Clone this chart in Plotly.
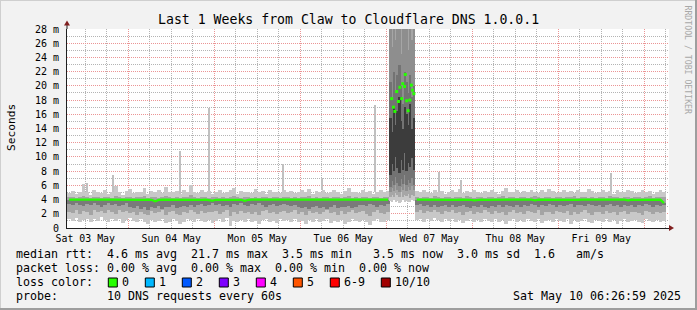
import plotly.graph_objects as go

# ---------------- data: hours since Sat 03 May 2025 00:00 ----------------
first_hour = 7          # first hourly smoke column starts at 07:00 on Sat 03 May
x_range = [6.9, 174.9]

N = None
# outer (lightest) smoke band: lowest / highest ping, ms
lo1 = [1.2, 1.0, 1.4, 0.9, 1.1, 1.3, 0.8, 1.2, 1.0, 1.5,
       1.1, 0.9, 1.3, 1.0, 1.2, 0.7, 1.1, 1.4, 1.0, 0.8,
       1.2, 0.9, 0.6, 1.1, 0.8, 1.0, 1.3, 0.7, 0.9, 1.2,
       1.0, 0.6, 0.9, 1.2, 1.1, 0.8, 1.3, 1.0, 0.9, 1.1,
       0.7, 1.0, 1.2, 0.9, 1.4, 0.3, 1.0, 0.8, 1.1, 0.9,
       1.2, 0.8, 1.0, 0.6, 1.1, 1.3, 0.9, 1.0, 0.7, 1.2,
       1.0, 1.1, 0.8, 1.2, 0.9, 1.0, 0.5, 1.1, 0.8, 1.3,
       0.9, 1.0, 1.2, 0.7, 1.0, 0.8, 1.1, 0.6, 0.9, 1.2,
       1.0, 0.8, 1.1, 0.9, 0.4, 1.0, 1.2, 0.8, 0.9, 1.1,
       N, N, N, N, N, N, N,
       1.1, 1.3, 0.9, 1.2, 1.0, 1.4, 1.1, 0.8, 1.2, 1.0,
       1.3, 0.9, 1.1, 0.7, 1.0, 1.2, 0.8, 1.1, 0.9, 1.3,
       1.0, 0.8, 1.2, 0.9, 1.1, 0.6, 1.0, 1.3, 0.9, 1.1,
       0.8, 1.2, 1.0, 0.9, 1.3, 0.7, 1.0, 1.1, 0.8, 1.2,
       1.0, 0.9, 1.2, 0.6, 1.1, 0.8, 1.0, 1.3, 0.9, 0.7,
       1.1, 1.0, 0.8, 1.2, 0.9, 1.1, 0.5, 1.0, 1.2, 0.8,
       1.0, 1.1, 0.9, 0.7, 1.2, 1.0, 0.8, 1.1, 0.9, 1.0]
hi1 = [4.9, 5.2, 4.8, 5.0, 6.2, 5.1, 4.7, 5.3, 5.0, 4.9,
       5.4, 4.8, 5.1, 5.9, 5.0, 4.7, 5.2, 5.5, 4.9, 5.1,
       5.0, 5.6, 4.8, 5.2, 5.0, 5.3, 4.9, 5.7, 5.1, 5.0,
       5.2, 4.8, 5.4, 5.0, 6.1, 5.1, 4.9, 5.3, 5.0, 5.2,
       4.8, 5.1, 5.4, 4.9, 5.0, 5.3, 5.6, 4.8, 5.2, 5.0,
       5.1, 4.9, 5.5, 5.0, 5.2, 4.8, 5.3, 5.0, 5.1, 4.9,
       5.4, 5.0, 5.2, 4.9, 5.1, 5.3, 5.0, 5.5, 4.8, 5.2,
       5.0, 5.3, 4.9, 5.1, 5.4, 5.0, 4.8, 5.2, 5.6, 5.0,
       5.1, 4.9, 5.3, 5.0, 5.2, 4.8, 5.1, 5.4, 5.0, 5.2,
       N, N, N, N, N, N, N,
       5.2, 5.0, 5.4, 5.1, 4.9, 5.3, 5.0, 5.2, 4.8, 5.1,
       5.3, 5.0, 5.5, 4.9, 5.2, 5.0, 5.4, 5.1, 4.9, 5.2,
       5.0, 5.3, 5.1, 4.8, 5.2, 5.6, 5.0, 5.1, 5.3, 4.9,
       5.2, 5.0, 5.4, 5.1, 4.9, 5.3, 5.0, 5.5, 5.2, 4.9,
       5.1, 5.3, 5.0, 5.2, 4.9, 5.4, 5.1, 5.0, 5.5, 5.2,
       4.9, 5.1, 5.3, 5.0, 5.2, 4.8, 5.4, 5.1, 5.0, 5.3,
       5.2, 4.9, 5.1, 5.4, 5.0, 5.2, 4.8, 5.1, 5.3, 5.0]
# middle smoke band
lo2 = [2.3, 2.1, 2.5, 2.0, 2.4, 2.2, 1.9, 2.6, 2.2, 2.4,
       2.1, 2.5, 2.3, 2.0, 2.6, 2.2, 2.4, 2.1, 2.3, 1.9,
       2.2, 2.0, 1.8, 2.4, 2.1, 2.3, 2.5, 1.9, 2.2, 2.4,
       2.0, 1.8, 2.3, 2.1, 2.5, 2.2, 2.0, 2.4, 2.1, 2.3,
       2.2, 2.4, 2.0, 2.3, 2.5, 1.7, 2.2, 2.0, 2.4, 2.1,
       2.3, 2.0, 2.2, 1.9, 2.4, 2.6, 2.1, 2.3, 2.0, 2.2,
       2.4, 2.1, 2.3, 2.5, 2.0, 2.2, 1.8, 2.4, 2.1, 2.3,
       2.0, 2.3, 2.5, 2.1, 2.2, 1.9, 2.4, 2.0, 2.2, 2.5,
       2.1, 2.3, 2.4, 2.0, 1.7, 2.2, 2.5, 2.1, 2.0, 2.3,
       N, N, N, N, N, N, N,
       2.3, 2.5, 2.1, 2.4, 2.2, 2.6, 2.3, 2.0, 2.4, 2.2,
       2.5, 2.1, 2.3, 1.9, 2.2, 2.4, 2.0, 2.3, 2.1, 2.5,
       2.2, 2.0, 2.4, 2.1, 2.3, 1.8, 2.2, 2.5, 2.1, 2.3,
       2.0, 2.4, 2.2, 2.1, 2.5, 1.9, 2.2, 2.3, 2.0, 2.4,
       2.2, 2.1, 2.4, 1.8, 2.3, 2.0, 2.2, 2.5, 2.1, 1.9,
       2.3, 2.2, 2.0, 2.4, 2.1, 2.3, 1.8, 2.2, 2.4, 2.0,
       2.2, 2.3, 2.1, 1.9, 2.4, 2.2, 2.0, 2.3, 2.1, 2.2]
hi2 = [4.3, 4.4, 4.2, 4.3, 4.5, 4.3, 4.2, 4.4, 4.3, 4.2,
       4.4, 4.3, 4.2, 4.5, 4.3, 4.2, 4.4, 4.3, 4.2, 4.4,
       4.3, 4.5, 4.2, 4.3, 4.4, 4.2, 4.3, 4.5, 4.3, 4.2,
       4.4, 4.2, 4.3, 4.4, 4.6, 4.3, 4.2, 4.4, 4.3, 4.2,
       4.3, 4.4, 4.2, 4.3, 4.2, 4.4, 4.5, 4.3, 4.2, 4.3,
       4.4, 4.2, 4.3, 4.2, 4.4, 4.3, 4.2, 4.4, 4.3, 4.2,
       4.3, 4.4, 4.2, 4.3, 4.2, 4.4, 4.3, 4.5, 4.2, 4.3,
       4.2, 4.4, 4.3, 4.2, 4.4, 4.3, 4.2, 4.3, 4.5, 4.2,
       4.3, 4.2, 4.4, 4.3, 4.2, 4.3, 4.4, 4.2, 4.3, 4.4,
       N, N, N, N, N, N, N,
       4.3, 4.2, 4.4, 4.3, 4.2, 4.5, 4.3, 4.2, 4.4, 4.3,
       4.2, 4.4, 4.3, 4.2, 4.5, 4.3, 4.2, 4.4, 4.3, 4.2,
       4.4, 4.3, 4.2, 4.3, 4.5, 4.2, 4.3, 4.4, 4.2, 4.3,
       4.4, 4.2, 4.3, 4.5, 4.3, 4.2, 4.4, 4.3, 4.2, 4.4,
       4.3, 4.2, 4.4, 4.3, 4.5, 4.2, 4.3, 4.4, 4.2, 4.3,
       4.2, 4.4, 4.3, 4.2, 4.5, 4.3, 4.4, 4.2, 4.3, 4.4,
       4.2, 4.3, 4.4, 4.2, 4.3, 4.5, 4.2, 4.3, 4.4, 4.3]
# inner (dark) smoke band bottom; it reaches up to the median
lo3 = [3.4, 3.2, 3.5, 3.3, 3.1, 3.4, 3.2, 3.5, 3.3, 3.0,
       3.3, 3.5, 3.2, 3.4, 3.1, 3.3, 3.5, 3.0, 2.8, 3.1,
       2.7, 3.0, 2.6, 2.9, 2.8, 3.1, 2.7, 3.0, 2.9, 3.2,
       2.8, 3.0, 3.1, 2.9, 3.3, 3.0, 3.2, 3.4, 3.1, 3.3,
       3.5, 3.2, 3.4, 3.1, 3.3, 3.0, 3.4, 3.2, 3.5, 3.3,
       3.1, 3.4, 3.2, 3.5, 3.3, 3.0, 3.2, 3.4, 3.1, 3.3,
       3.4, 3.2, 3.1, 3.3, 3.0, 2.8, 3.0, 2.7, 2.9, 3.1,
       2.8, 3.0, 2.7, 2.9, 3.2, 2.8, 3.0, 2.9, 3.1, 2.8,
       3.0, 3.2, 3.3, 3.1, 3.4, 3.2, 3.0, 3.3, 3.1, 3.4,
       N, N, N, N, N, N, N,
       3.2, 3.4, 3.1, 3.3, 3.0, 3.2, 2.9, 3.1, 3.3, 3.0,
       3.2, 2.9, 3.1, 3.3, 3.0, 2.8, 3.1, 2.9, 3.2, 3.0,
       2.8, 3.1, 2.9, 3.2, 3.0, 3.3, 3.1, 2.9, 3.2, 3.0,
       3.3, 3.1, 3.4, 3.2, 3.0, 3.3, 3.1, 3.4, 3.2, 3.0,
       3.3, 3.1, 3.2, 3.4, 3.0, 3.2, 3.3, 3.1, 3.4, 3.2,
       3.1, 3.3, 3.0, 3.2, 3.4, 3.1, 3.3, 3.0, 3.2, 3.1,
       3.3, 3.0, 3.2, 3.1, 3.4, 3.2, 3.0, 3.3, 3.1, 3.2]
# median rtt, ms
med = [3.98, 3.97, 3.98, 3.99, 3.98, 3.97, 3.98, 3.98, 3.99, 3.97,
       3.98, 3.98, 3.97, 3.98, 3.99, 3.98, 3.97, 3.98, 3.98, 3.97,
       3.98, 3.96, 3.98, 3.97, 3.75, 3.96, 3.98, 3.97, 3.98, 3.98,
       3.97, 3.98, 3.99, 3.98, 3.97, 3.98, 3.98, 3.97, 3.98, 3.96,
       3.85, 3.97, 3.98, 3.98, 3.97, 3.98, 3.99, 3.98, 3.97, 3.82,
       3.97, 3.98, 3.98, 3.97, 3.98, 3.99, 3.98, 3.97, 3.98, 3.98,
       3.97, 3.98, 3.99, 3.98, 3.97, 3.98, 3.98, 3.97, 3.90, 3.98,
       3.98, 3.97, 3.98, 3.99, 3.98, 3.97, 3.98, 3.98, 3.97, 3.98,
       3.98, 3.97, 3.99, 3.98, 3.97, 3.98, 3.98, 3.97, 3.98, 3.98,
       N, N, N, N, N, N, N,
       3.98, 3.97, 3.98, 3.99, 3.98, 3.97, 3.98, 3.98, 3.97, 3.98,
       3.98, 3.97, 3.98, 3.99, 3.98, 3.97, 3.88, 3.98, 3.98, 3.97,
       3.98, 3.99, 3.98, 3.97, 3.98, 3.98, 3.97, 3.98, 3.98, 3.97,
       3.98, 3.99, 3.98, 3.88, 3.98, 3.97, 3.98, 3.98, 3.97, 3.98,
       3.98, 3.97, 3.98, 3.99, 3.98, 3.97, 3.98, 3.98, 3.97, 3.98,
       3.98, 3.97, 3.98, 3.90, 3.98, 3.97, 3.98, 3.98, 3.99, 3.88,
       3.98, 3.97, 3.98, 3.98, 3.99, 3.98, 3.92, 3.97, 3.98, 3.50]

# isolated high single-sample spikes (hour, top in ms)
spike_hours = [12.5, 19.7, 38.4, 46.5, 67.2, 78.1, 93.0, 110.7, 117.0, 158.7]
spike_tops = [6.3, 7.4, 10.9, 16.9, 9.0, 7.0, 17.3, 7.9, 6.7, 7.8]

# outage on Wed 07 May 01:00-08:00, half-hour columns
out_first_hour = 97.0
o_b1_lo = [3.8, 3.6, 3.9, 3.7, 3.8, 3.5, 3.7, 3.9, 3.6, 3.8, 3.7, 3.6, 3.9, 3.8]
o_b1_hi = [35.0, 35.0, 35.0, 35.0, 35.0, 35.0, 35.0, 35.0, 35.0, 35.0, 35.0, 35.0, 35.0, 35.0]
o_b2_lo = [4.4, 4.7, 4.3, 4.9, 4.6, 4.4, 5.0, 4.3, 4.7, 4.5, 4.8, 4.2, 4.6, 4.5]
o_b2_hi = [35.0, 35.0, 35.0, 35.0, 35.0, 35.0, 35.0, 35.0, 35.0, 35.0, 35.0, 35.0, 35.0, 35.0]
o_b3_lo = [5.0, 5.6, 5.2, 6.0, 5.4, 5.1, 5.8, 5.3, 6.2, 5.2, 5.7, 5.4, 5.9, 5.3]
o_b3_hi = [31.0, 25.5, 32.0, 26.5, 33.0, 30.0, 24.5, 31.0, 29.0, 30.5, 25.0, 32.0, 26.5, 30.0]
o_b4_lo = [5.8, 6.6, 6.0, 7.2, 6.3, 5.9, 6.9, 6.2, 7.4, 6.0, 6.8, 6.3, 7.0, 6.1]
o_b4_hi = [20.5, 18.0, 22.0, 19.0, 21.5, 23.0, 20.0, 17.5, 22.0, 20.5, 19.0, 21.5, 18.5, 20.0]
o_b5_lo = [7.5, 9.0, 8.0, 10.0, 8.5, 7.8, 9.5, 8.2, 10.5, 8.0, 9.2, 8.6, 9.8, 8.1]
o_b5_hi = [15.5, 13.5, 17.0, 14.5, 16.5, 18.5, 15.0, 14.0, 17.0, 16.0, 14.5, 17.5, 14.0, 15.5]
out_med_hours = [97.5, 98.0, 98.4, 98.9, 99.4, 99.8, 100.3, 100.6,
                 101.1, 101.3, 101.7, 102.1, 102.6, 103.0, 103.3, 103.7]
out_med = [18.2, 17.0, 16.4, 19.2, 17.8, 19.8, 18.2, 20.3,
           19.9, 21.6, 17.9, 16.5, 18.0, 20.1, 19.4, 18.9]

day_hours = [12, 36, 60, 84, 108, 132, 156]
day_labels = ['Sat 03 May', 'Sun 04 May', 'Mon 05 May', 'Tue 06 May',
              'Wed 07 May', 'Thu 08 May', 'Fri 09 May']
midnight_hours = [24, 48, 72, 96, 120, 144, 168]
six_hours = [h for h in range(12, 175, 6)]
y_ticks = list(range(0, 29, 2))
y_labels = ['0'] + ['%d m' % v for v in y_ticks[1:]]

loss_labels = ['0', '1', '2', '3', '4', '5', '6-9', '10/10']
loss_colors = ['#26ff00', '#00b8ff', '#0059ff', '#7e00ff', '#ff00ff', '#ff5500', '#ff0000', '#a10000']

stats_line1 = 'median rtt:  4.6 ms avg  21.7 ms max  3.5 ms min   3.5 ms now  3.0 ms sd  1.6   am/s'
stats_line2 = 'packet loss: 0.00 % avg  0.00 % max  0.00 % min  0.00 % now'
probe_line = 'probe:       10 DNS requests every 60s'
stamp = 'Sat May 10 06:26:59 2025'
title = 'Last 1 Weeks from Claw to Cloudflare DNS 1.0.0.1'

for arr in (lo1, hi1, lo2, hi2, lo3, med):
    assert len(arr) == len(lo1), len(arr)

# ---------------- figure ----------------
MONO = 'DejaVu Sans Mono'
W, H = 697, 310
L, R, T, B = 67, 28, 29, 82
PW, PH = W - L - R, H - T - B


def px(x):
    return (x - L) / PW


def py(y):
    return (H - B - y) / PH


centers = [first_hour + i + 0.5 for i in range(len(lo1))]
out_centers = [out_first_hour + 0.25 + 0.5 * i for i in range(len(o_b1_lo))]


def band(xs, lo, hi, color, width):
    bx, bb, bh = [], [], []
    for x, a, b in zip(xs, lo, hi):
        if a is None or b is None:
            continue
        bx.append(x)
        bb.append(a)
        bh.append(b - a)
    return go.Bar(x=bx, y=bh, base=bb, width=width, marker=dict(color=color, line=dict(width=0)),
                  hoverinfo='skip', showlegend=False)


fig = go.Figure()
fig.add_trace(band(centers, lo1, hi1, '#c8c8c8', 1.04))
fig.add_trace(band(centers, lo2, hi2, '#a4a4a4', 1.04))
fig.add_trace(band(centers, lo3, med, '#7a7a7a', 1.04))

spike_base = [hi1[int(h - first_hour)] for h in spike_hours]
fig.add_trace(band(spike_hours, spike_base, spike_tops, '#c0c0c0', 0.3))

fig.add_trace(band(out_centers, o_b1_lo, o_b1_hi, '#c8c8c8', 0.52))
fig.add_trace(band(out_centers, o_b2_lo, o_b2_hi, '#a6a6a6', 0.52))
fig.add_trace(band(out_centers, o_b3_lo, o_b3_hi, '#8e8e8e', 0.52))
fig.add_trace(band(out_centers, o_b4_lo, o_b4_hi, '#737373', 0.52))
fig.add_trace(band(out_centers, o_b5_lo, o_b5_hi, '#3c3c3c', 0.52))

fig.add_trace(go.Scatter(x=centers, y=med, mode='lines', xaxis='x2',
                         line=dict(color='#26ff00', width=2.2), connectgaps=False,
                         hoverinfo='skip', showlegend=False))
fig.add_trace(go.Scatter(x=out_med_hours, y=out_med, mode='markers', xaxis='x2',
                         marker=dict(symbol='square', size=3, color='#26ff00', line=dict(width=0)),
                         hoverinfo='skip', showlegend=False))

GRID = '#b4b4b4'
MGRID = '#eb9595'
DASH = '1px,1px'

fig.update_layout(
    width=W, height=H, margin=dict(l=L, r=R, t=T, b=B, pad=0),
    paper_bgcolor='#f2f2f2', plot_bgcolor='#ffffff',
    barmode='overlay', bargap=0, hovermode=False, showlegend=False,
    font=dict(family=MONO, color='#000000'),
    xaxis=dict(range=x_range, tickmode='array', tickvals=midnight_hours, ticktext=[''] * 7,
               showticklabels=False, ticks='', showgrid=True, gridcolor=MGRID, griddash=DASH,
               gridwidth=1, zeroline=False, showline=True, linecolor='#1f1f1f', linewidth=1,
               minor=dict(tickmode='array', tickvals=six_hours, showgrid=True, gridcolor=GRID,
                          griddash=DASH, gridwidth=1, ticks=''),
               fixedrange=True),
    xaxis2=dict(range=x_range, overlaying='x', side='bottom', anchor='y', tickmode='array',
                tickvals=day_hours, ticktext=day_labels, showgrid=False, zeroline=False,
                showline=False, ticks='', ticklabelstandoff=3,
                tickfont=dict(family=MONO, size=9.9, color='#000000'),
                fixedrange=True),
    yaxis=dict(range=[0, 28], tickmode='array', tickvals=y_ticks, ticktext=y_labels,
               showgrid=True, gridcolor=MGRID, griddash=DASH, gridwidth=1, zeroline=False,
               showline=True, linecolor='#1f1f1f', linewidth=1, ticks='', ticklabelstandoff=5,
               tickfont=dict(family=MONO, size=10, color='#000000'),
               minor=dict(tickmode='array', tickvals=[v for v in range(1, 28, 2)], showgrid=True,
                          gridcolor=GRID, griddash=DASH, gridwidth=1, ticks=''),
               fixedrange=True),
)

shapes = []
# 3D frame of the image
shapes.append(dict(type='line', xref='paper', yref='paper', x0=px(0), x1=px(W), y0=py(0.5), y1=py(0.5),
                   line=dict(color='#cfcfcf', width=1)))
shapes.append(dict(type='line', xref='paper', yref='paper', x0=px(0.5), x1=px(0.5), y0=py(0), y1=py(H),
                   line=dict(color='#cfcfcf', width=1)))
shapes.append(dict(type='line', xref='paper', yref='paper', x0=px(0), x1=px(W), y0=py(H - 1), y1=py(H - 1),
                   line=dict(color='#9e9e9e', width=2)))
shapes.append(dict(type='line', xref='paper', yref='paper', x0=px(W - 1), x1=px(W - 1), y0=py(0), y1=py(H),
                   line=dict(color='#9e9e9e', width=2)))
# axis arrow heads
shapes.append(dict(type='line', xref='paper', yref='paper', x0=px(L), x1=px(L), y0=1, y1=py(24),
                   line=dict(color='#1f1f1f', width=1)))
shapes.append(dict(type='path', xref='paper', yref='paper',
                   path='M %f %f L %f %f L %f %f Z' % (px(64), py(25.5), px(70), py(25.5), px(67), py(20.5)),
                   fillcolor='#801f1f', line=dict(width=0)))
shapes.append(dict(type='path', xref='paper', yref='paper',
                   path='M %f %f L %f %f L %f %f Z' % (px(669), py(225), px(669), py(231), px(674), py(228)),
                   fillcolor='#801f1f', line=dict(width=0)))

ann = []
ann.append(dict(text=title, xref='paper', yref='paper', x=px(348), y=py(19), xanchor='center',
                yanchor='middle', showarrow=False, font=dict(family=MONO, size=13.2, color='#000000')))
ann.append(dict(text='Seconds', xref='paper', yref='paper', x=px(11), y=py(128), xanchor='center',
                yanchor='middle', textangle=-90, showarrow=False,
                font=dict(family=MONO, size=11.2, color='#000000')))
ann.append(dict(text='RRDTOOL / TOBI OETIKER', xref='paper', yref='paper', x=px(687.5), y=py(60),
                xanchor='center', yanchor='middle', textangle=90, showarrow=False,
                font=dict(family=MONO, size=8.2, color='#a8a8a8')))

nb = lambda s: s.replace(' ', '\u00a0')
LEG = dict(family=MONO, size=11.63, color='#000000')
for txt, yy in ((stats_line1, 254), (stats_line2, 268), ('loss color:', 282), (probe_line, 296)):
    ann.append(dict(text=nb(txt), xref='paper', yref='paper', x=px(16), y=py(yy), xanchor='left',
                    yanchor='middle', showarrow=False, font=LEG, borderpad=0, borderwidth=0))
ann.append(dict(text=nb(stamp), xref='paper', yref='paper', x=px(681), y=py(296), xanchor='right',
                yanchor='middle', showarrow=False, font=LEG, borderpad=0, borderwidth=0))

bx = 108.3
for lab, col in zip(loss_labels, loss_colors):
    shapes.append(dict(type='rect', xref='paper', yref='paper', x0=px(bx), x1=px(bx + 9),
                       y0=py(287), y1=py(278), fillcolor=col, line=dict(color='#000000', width=1)))
    ann.append(dict(text=nb(lab), xref='paper', yref='paper', x=px(bx + 14), y=py(282), xanchor='left',
                    yanchor='middle', showarrow=False, font=LEG, borderpad=0, borderwidth=0))
    bx += 30 + 7 * len(lab)

fig.update_layout(shapes=shapes, annotations=ann)
fig.write_html('out.html')
